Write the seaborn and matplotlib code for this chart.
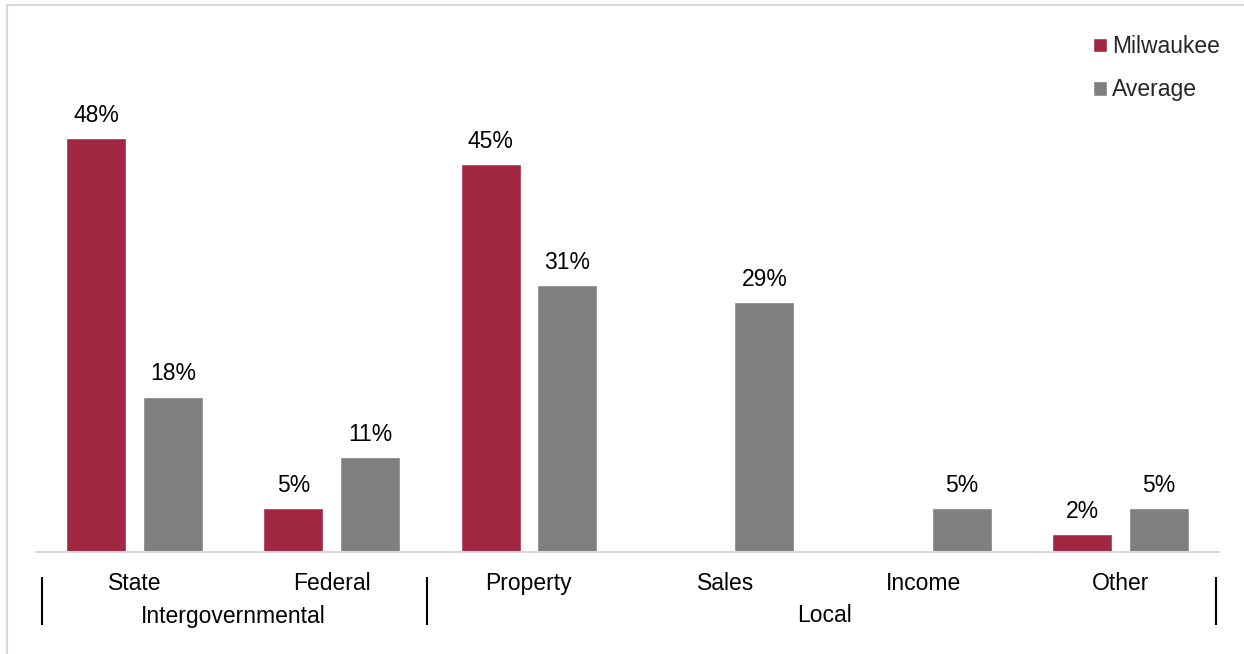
import matplotlib
matplotlib.use("Agg")
import matplotlib.pyplot as plt
import matplotlib.transforms as mtransforms
from matplotlib.patches import Rectangle
import seaborn as sns
import pandas as pd

# Revenue shares by source (percent)
categories = ["State", "Federal", "Property", "Sales", "Income", "Other"]
milwaukee = [48, 5, 45, 0, 0, 2]
average = [18, 11, 31, 29, 5, 5]
series_names = ["Milwaukee", "Average"]
groups = ["Intergovernmental", "Local"]
group_members = [["State", "Federal"], ["Property", "Sales", "Income", "Other"]]

sns.set_theme(style="white")
plt.rcParams["font.family"] = ["Liberation Sans", "DejaVu Sans"]

RED = "#A12641"
GRAY = "#7F7F7F"
FS = 16.5

df = pd.DataFrame({
    "category": categories * 2,
    "series": [series_names[0]] * len(categories) + [series_names[1]] * len(categories),
    "value": milwaukee + average,
})

W, H = 1244, 654
fig = plt.figure(figsize=(W / 100, H / 100), dpi=100)

# outer chart frame
fig.patches.append(Rectangle((7 / W, -0.05), 1.2, 1 - 5 / H + 0.05,
                             transform=fig.transFigure, fill=False,
                             edgecolor="#d9d9d9", linewidth=1.5))

px_per_unit = 8.608
ymax = 62
ax_h = ymax * px_per_unit
ax = fig.add_axes([36 / W, (H - 551.5) / H, 1183 / W, ax_h / H])

sns.barplot(data=df, x="category", y="value", hue="series", order=categories,
            hue_order=series_names, palette=[RED, GRAY], width=0.777, gap=0.217,
            saturation=1, ax=ax, legend=True)

ax.set_xlim(-0.5, 5.5)
ax.set_ylim(0, ymax)
ax.set_xlabel("")
ax.set_ylabel("")
ax.set_yticks([])
for s in ["top", "right", "left"]:
    ax.spines[s].set_visible(False)
ax.spines["bottom"].set_color("#d9d9d9")
ax.spines["bottom"].set_linewidth(1.5)
ax.tick_params(axis="x", length=0, pad=14.5, labelsize=FS, labelcolor="black")

# value labels
for container, vals in zip(ax.containers, [milwaukee, average]):
    labels = [f"{v}%" if v > 0 else "" for v in vals]
    ax.bar_label(container, labels=labels, padding=8, fontsize=FS, color="black")

# legend
handles, labels = ax.get_legend_handles_labels()
ax.get_legend().remove()
fig.legend(handles, labels, loc="upper left",
           bbox_to_anchor=(1093 / W, 1 - 35 / H), frameon=False, fontsize=FS,
           borderpad=0, borderaxespad=0, handlelength=0.62, handleheight=0.62,
           handletextpad=0.2, labelspacing=0.88)

# group labels and separators below the category labels
trans = mtransforms.blended_transform_factory(ax.transData, ax.transAxes)
px = 1 / ax_h
sep_top, sep_bot = -25.5 * px, -73.5 * px
edges = [-0.468, 1.484, 5.487]
for x in edges:
    ax.plot([x, x], [sep_top, sep_bot], transform=trans, color="black",
            linewidth=1.5, clip_on=False, solid_capstyle="butt")
for name, members in zip(groups, group_members):
    idx = [categories.index(m) for m in members]
    xc = (min(idx) + max(idx)) / 2
    ax.text(xc, -71 * px, name, transform=trans, ha="center", va="baseline",
            fontsize=FS, color="black")

fig.savefig("out.png", dpi=100)
